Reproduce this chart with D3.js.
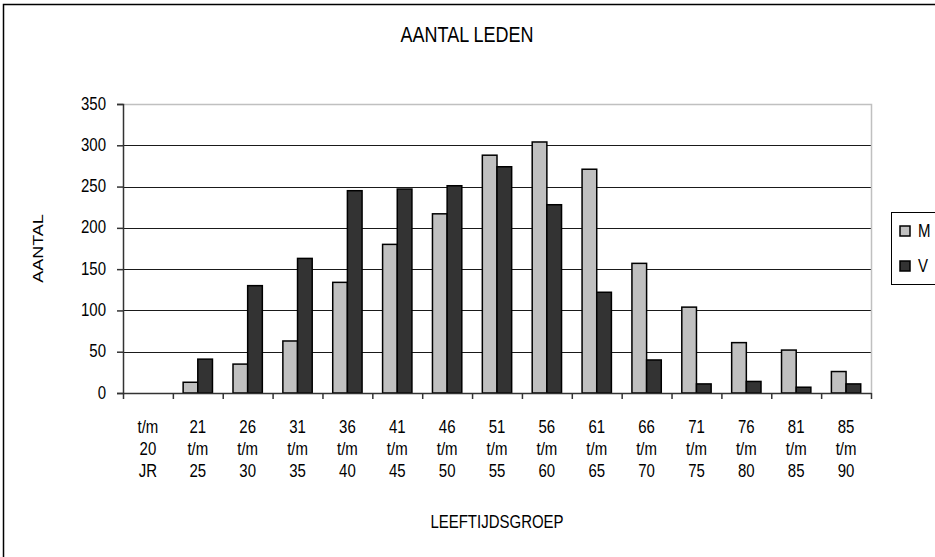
<!DOCTYPE html>
<html>
<head>
<meta charset="utf-8">
<script src="https://cdn.jsdelivr.net/npm/d3@7"></script>
<style>
    body { margin: 0; background: #fff; }
    text { font-family: "Liberation Sans", Arial, sans-serif; fill: #000; }
</style>
</head>
<body>
<div id="chart"></div>
<script>
// leeftijdsgroepen (3 regels per label)
var groepen = [
    ["t/m", "20", "JR"], ["21", "t/m", "25"], ["26", "t/m", "30"], ["31", "t/m", "35"],
    ["36", "t/m", "40"], ["41", "t/m", "45"], ["46", "t/m", "50"], ["51", "t/m", "55"],
    ["56", "t/m", "60"], ["61", "t/m", "65"], ["66", "t/m", "70"], ["71", "t/m", "75"],
    ["76", "t/m", "80"], ["81", "t/m", "85"], ["85", "t/m", "90"]
];
var series = ["M", "V"];
var mannen  = [null, 13, 35, 63, 134, 180, 217, 288, 304, 271, 157, 104, 61, 52, 26];
var vrouwen = [null, 41, 130, 163, 245, 247, 251, 274, 228, 122, 40, 11, 14, 7, 11];
var yTicks = [0, 50, 100, 150, 200, 250, 300, 350];

(function() {
    var width = 935, height = 557;
    var plot = {left: 123, right: 871, top: 104, bottom: 393};
    var colors = {M: "#c0c0c0", V: "#333333"};
    var fontSize = 15, stretch = 1.2;   // tekst in het origineel is hoger dan breed

    var svg = d3.select("#chart")
        .append("svg")
        .attr("width", width)
        .attr("height", height);

    // tekst met verticale rek; y is de basislijn
    function label(parent, x, y, str, anchor, rotate, size) {
        return parent.append("text")
            .attr("transform", "translate(" + x + "," + y + ") scale(1," + stretch + ")" + (rotate ? " rotate(-90)" : ""))
            .attr("text-anchor", anchor || "middle")
            .style("font-size", (size || fontSize) + "px")
            .text(str);
    }

    // buitenrand van de grafiek (loopt rechts/onder buiten beeld)
    svg.append("rect")
        .attr("x", 3.5).attr("y", 4.5)
        .attr("width", 1000).attr("height", 1000)
        .attr("fill", "none")
        .attr("stroke", "#000")
        .attr("stroke-width", 1.5);

    var x = d3.scaleBand()
        .domain(d3.range(groepen.length))
        .range([plot.left, plot.right])
        .padding(0);
    var xSub = d3.scaleBand()
        .domain(series)
        .range([0, x.bandwidth()])
        .paddingInner(0)
        .paddingOuter(0.7);
    var y = d3.scaleLinear()
        .domain([0, 350])
        .range([plot.bottom, plot.top]);

    // rasterlijnen
    svg.append("g")
        .attr("transform", "translate(" + plot.left + ",0)")
        .call(d3.axisLeft(y).tickValues(yTicks).tickSize(-(plot.right - plot.left)).tickFormat(""))
        .call(function(g) { g.select(".domain").remove(); })
        .selectAll("line")
        .attr("stroke", "#1a1a1a")
        .attr("shape-rendering", "crispEdges");

    // rand van plotgebied (boven en rechts grijs)
    svg.append("path")
        .attr("d", "M" + plot.left + "," + (plot.top + 0.5) + "H" + (plot.right + 0.5) + "V" + plot.bottom)
        .attr("fill", "none")
        .attr("stroke", "#c0c0c0")
        .attr("stroke-width", 1.5);

    // staven
    var data = [];
    groepen.forEach(function(g, i) {
        [mannen[i], vrouwen[i]].forEach(function(v, j) {
            if (v != null) data.push({i: i, s: series[j], v: v});
        });
    });
    svg.append("g")
        .selectAll("rect")
        .data(data)
        .enter()
        .append("rect")
        .attr("x", function(d) { return x(d.i) + xSub(d.s); })
        .attr("y", function(d) { return y(d.v); })
        .attr("width", xSub.bandwidth())
        .attr("height", function(d) { return y(0) - y(d.v); })
        .attr("fill", function(d) { return colors[d.s]; })
        .attr("stroke", "#000")
        .attr("stroke-width", 1.5);

    // y-as
    var yAxis = svg.append("g")
        .attr("transform", "translate(" + plot.left + ",0)")
        .call(d3.axisLeft(y).tickValues(yTicks).tickSize(6).tickFormat(""));
    yAxis.selectAll("line, path").attr("stroke", "#333").attr("stroke-width", 1.5);
    yTicks.forEach(function(t) {
        label(svg, 106, y(t) + 5.5, d3.format("d")(t), "end");
    });

    // x-as met streepjes op de groepsgrenzen
    var xb = d3.scaleLinear().domain([0, groepen.length]).range([plot.left, plot.right]);
    var xAxis = svg.append("g")
        .attr("transform", "translate(0," + plot.bottom + ")")
        .call(d3.axisBottom(xb).tickValues(d3.range(groepen.length + 1)).tickSize(6).tickSizeOuter(0).tickFormat(""));
    xAxis.selectAll("line, path").attr("stroke", "#333").attr("stroke-width", 1.5);

    // categorie-labels
    groepen.forEach(function(g, i) {
        g.forEach(function(t, k) {
            label(svg, x(i) + x.bandwidth() / 2, 433 + k * 22, t);
        });
    });

    // titels
    label(svg, 467, 42, "AANTAL LEDEN", "middle", false, 18);
    label(svg, (plot.left + plot.right) / 2, 528, "LEEFTIJDSGROEP");
    label(svg, 43, (plot.top + plot.bottom) / 2, "AANTAL", "middle", true);

    // legenda
    var leg = svg.append("g").attr("transform", "translate(891,212)");
    leg.append("rect")
        .attr("x", 0.5).attr("y", 0.5)
        .attr("width", 80).attr("height", 72)
        .attr("fill", "#fff")
        .attr("stroke", "#000");
    series.forEach(function(s, k) {
        var cy = 19 + k * 35;
        leg.append("rect")
            .attr("x", 9).attr("y", cy - 5)
            .attr("width", 10).attr("height", 10)
            .attr("fill", colors[s])
            .attr("stroke", "#000")
            .attr("stroke-width", 1.5);
        label(leg, 27, cy + 6, s, "start");
    });
})();
</script>
</body>
</html>
